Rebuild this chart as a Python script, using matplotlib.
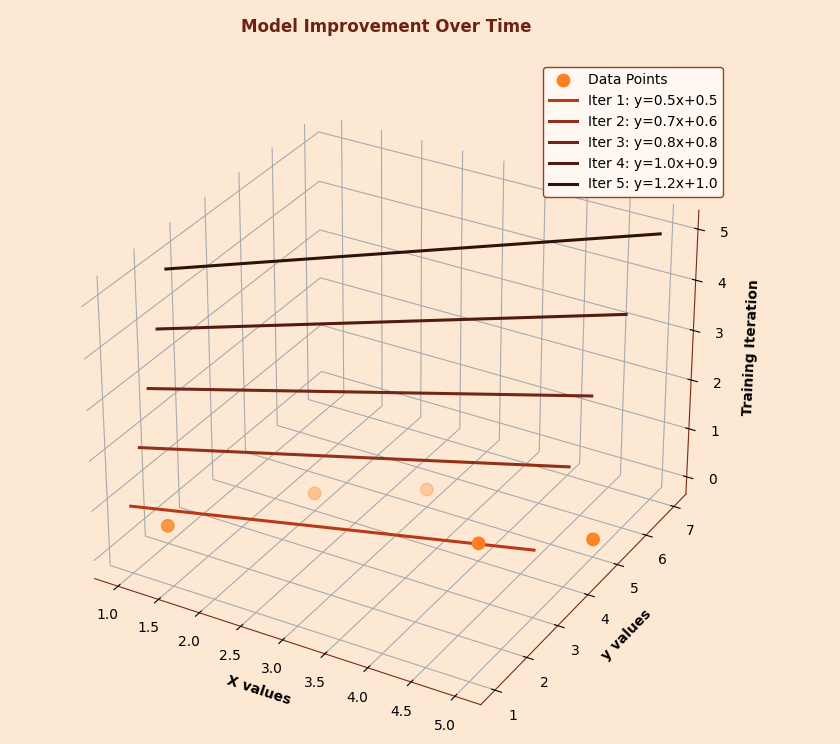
import numpy as np
import matplotlib
matplotlib.use("Agg")
import matplotlib.pyplot as plt

# data
x_pts = [1, 2, 3, 4, 5]
y_pts = [2.0, 4.0, 5.0, 4.0, 5.0]
slopes = [0.5, 0.7, 0.8, 1.0, 1.2]
intercepts = [0.5, 0.6, 0.8, 0.9, 1.0]
iters = [1, 2, 3, 4, 5]
line_colors = ['#b8391a', '#93301a', '#722615', '#521b0e', '#311208']

bg = '#fde9d3'
spine_col = '#7a2a16'

fig = plt.figure(figsize=(8.4, 7.44), dpi=100)
fig.patch.set_facecolor(bg)
ax = fig.add_axes([-0.005, -0.0055, 0.93, 0.924], projection='3d')
ax.set_facecolor(bg)

ax.scatter(x_pts, y_pts, np.zeros(len(x_pts)), color='#ff7f1e', s=80,
           label='Data Points', depthshade=True)

xs = np.array(x_pts, dtype=float)
for it, a, b, c in zip(iters, slopes, intercepts, line_colors):
    ax.plot(xs, a * xs + b, np.full_like(xs, it), color=c, lw=2.2,
            label=f'Iter {it}: y={a:.1f}x+{b:.1f}')

# transparent panes, no pane edges, grey grid
for axis in (ax.xaxis, ax.yaxis, ax.zaxis):
    axis.pane.fill = False
    axis.pane.set_edgecolor('none')
    axis.line.set_color(spine_col)
    axis._axinfo['grid']['color'] = '#a8aab0'
    axis._axinfo['grid']['linewidth'] = 0.8

ax.set_xlabel('X values', fontweight='bold', labelpad=5)
ax.set_ylabel('y values', fontweight='bold', labelpad=5)
ax.set_zlabel('Training Iteration', fontweight='bold', labelpad=5)
fig.suptitle('Model Improvement Over Time', x=0.46, y=0.964, va='center',
             fontsize=12, fontweight='bold', color='#6b2213')

leg = ax.legend(loc='upper right', bbox_to_anchor=(0.869, 0.919),
                bbox_transform=fig.transFigure, facecolor='#fff8f2',
                edgecolor='#9c3f25', framealpha=1)

plt.savefig('out.png', dpi=100, facecolor=bg)
